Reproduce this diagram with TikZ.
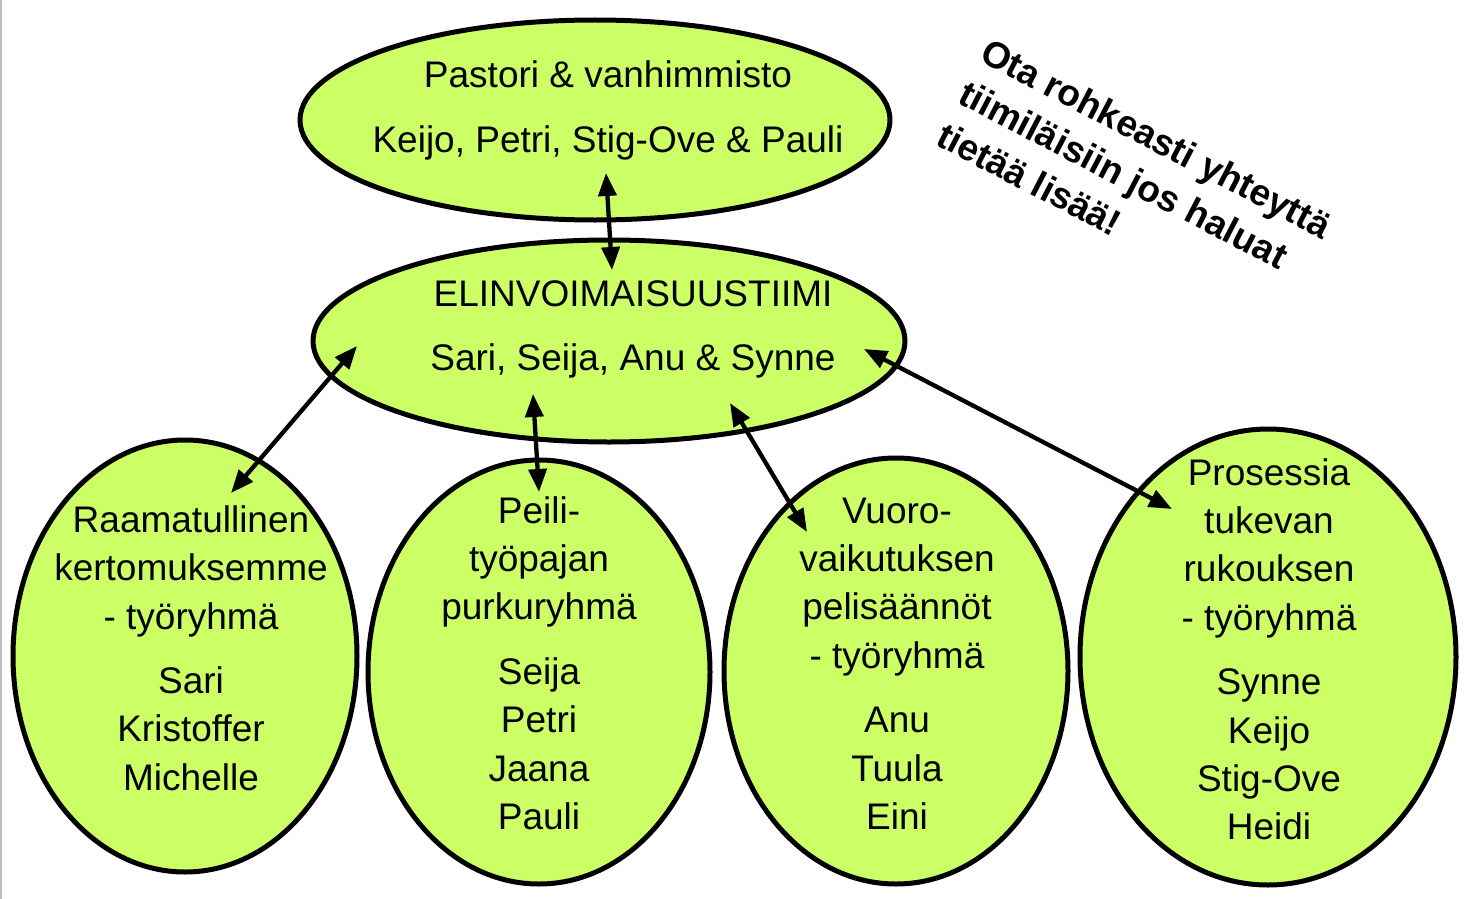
\documentclass[tikz,border=0pt]{standalone}
\usepackage{fontspec}
\setmainfont{Liberation Sans}
\usetikzlibrary{shapes.geometric,arrows.meta}
\definecolor{lime}{RGB}{204,255,102}
\tikzset{
  blob/.style={ellipse, draw=black, fill=lime, line width=5pt, inner sep=0pt},
  txt/.style={anchor=base, inner sep=0pt, font=\fontsize{37}{44}\selectfont},
  note/.style={anchor=base west, inner sep=0pt, rotate=-27.5, font=\bfseries\fontsize{37}{44}\selectfont},
  link/.style={line width=4.3pt, {Triangle[length=23pt,width=18pt]}-{Triangle[length=23pt,width=18pt]}}
}
\begin{document}
\begin{tikzpicture}[x=1pt,y=-1pt]
\useasboundingbox (0,0) rectangle (1467,899);
\draw[gray!50, line width=2pt] (1,0) -- (1,899);
% ellipses
\node[blob, minimum width=590pt, minimum height=200pt] (top) at (595,120) {};
\node[blob, minimum width=592pt, minimum height=202pt] (mid) at (609,341) {};
\node[blob, minimum width=344pt, minimum height=432pt] (b1) at (185,656) {};
\node[blob, minimum width=342pt, minimum height=424pt] (b2) at (539,672) {};
\node[blob, minimum width=344pt, minimum height=426pt] (b3) at (896,671) {};
\node[blob, minimum width=376pt, minimum height=456pt] (b4) at (1268,657) {};
% texts
\node[txt] (t1) at (608,88) {Pastori \& vanhimmisto};
\node[txt] (t2) at (608,152) {Keijo, Petri, Stig-Ove \& Pauli};
\node[txt] (m1) at (633,306) {ELINVOIMAISUUSTIIMI};
\node[txt] (m2) at (633,370) {Sari, Seija, Anu \& Synne};
\foreach \s/\y [count=\i] in {Raamatullinen/532, kertomuksemme/580, - työryhmä/629, Sari/693, Kristoffer/741, Michelle/790}
  \node[txt] (a\i) at (191,\y) {\s};
\foreach \s/\y [count=\i] in {Peili-/523, työpajan/571, purkuryhmä/619, Seija/684, Petri/732, Jaana/781, Pauli/829}
  \node[txt] (p\i) at (539,\y) {\s};
\foreach \s/\y [count=\i] in {Vuoro-/523, vaikutuksen/571, pelisäännöt/619, - työryhmä/668, Anu/732, Tuula/781, Eini/829}
  \node[txt] (v\i) at (897,\y) {\s};
\foreach \s/\y [count=\i] in {Prosessia/485, tukevan/533, rukouksen/581, - työryhmä/630, Synne/694, Keijo/743, Stig-Ove/791, Heidi/839}
  \node[txt] (r\i) at (1269,\y) {\s};
% note
\node[note] (n1) at (978,60) {Ota rohkeasti yhteyttä};
\node[note] (n2) at (956,102) {tiimiläisiin jos haluat};
\node[note] (n3) at (934,144) {tietää lisää!};
% arrow ends
\coordinate (e0a) at (606,173);
\coordinate (e0b) at (612,270);
\coordinate (e1a) at (357,346);
\coordinate (e1b) at (231,493);
\coordinate (e2a) at (533,394);
\coordinate (e2b) at (539,492);
\coordinate (e3a) at (730,403);
\coordinate (e3b) at (807,532);
\coordinate (e4a) at (864,349);
\coordinate (e4b) at (1172,509);
\draw[link] (e0a) -- (e0b);
\draw[link] (e1a) -- (e1b);
\draw[link] (e2a) -- (e2b);
\draw[link] (e3a) -- (e3b);
\draw[link] (e4a) -- (e4b);
\end{tikzpicture}
\end{document}
